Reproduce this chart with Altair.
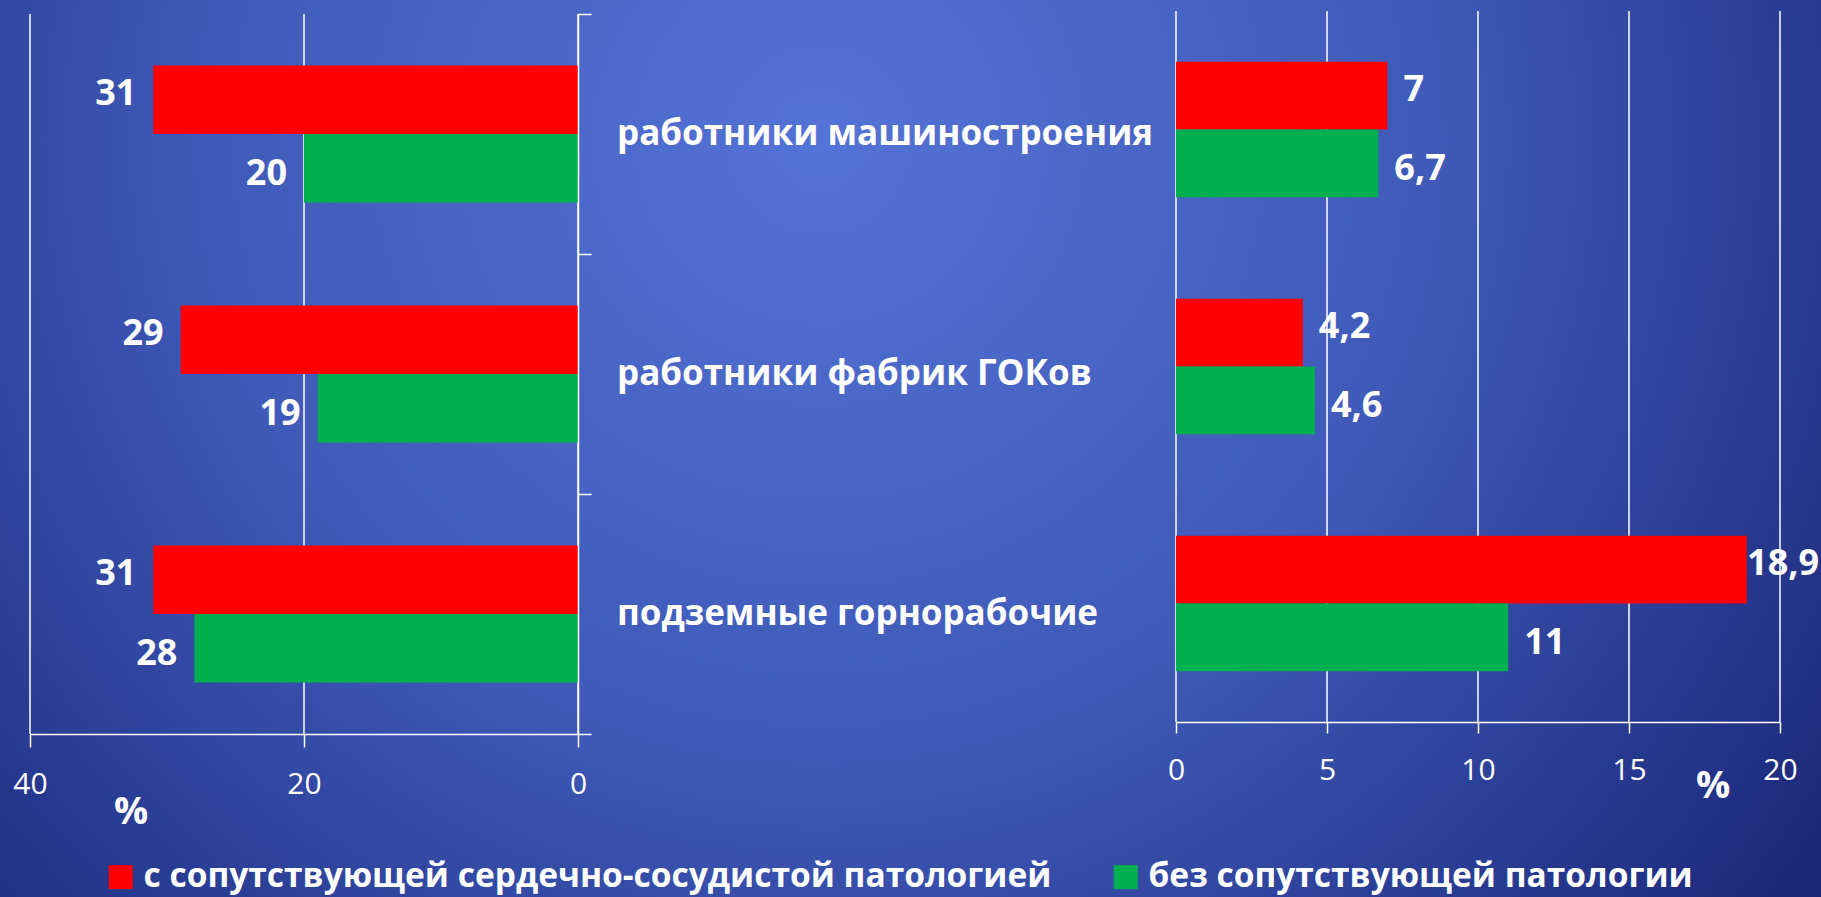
import altair as alt
import pandas as pd

# Categories (top to bottom) and the two compared groups
categories = ["работники машиностроения", "работники фабрик ГОКов", "подземные горнорабочие"]
series = ["с сопутствующей сердечно-сосудистой патологией", "без сопутствующей патологии"]
series_colors = ["#FF0000", "#00B050"]

# Left panel, % (axis runs from 40 on the left to 0 on the right)
left_with = [31, 29, 31]
left_without = [20, 19, 28]
left_ticks = [0, 20, 40]

# Right panel, % (axis runs from 0 to 20)
right_with = [7, 4.2, 18.9]
right_without = [6.7, 4.6, 11]
right_ticks = [0, 5, 10, 15, 20]

W, H = 1821, 897
FONT = "Open Sans"
WHITE = "#FFFFFF"


def frame(with_vals, without_vals):
    rows = []
    for cat, a, b in zip(categories, with_vals, without_vals):
        for s, v in zip(series, (a, b)):
            rows.append({"category": cat, "series": s, "value": v,
                         "label": f"{v:g}".replace(".", ",")})
    return pd.DataFrame(rows)


left_df = frame(left_with, left_without)
right_df = frame(right_with, right_without)

# Panel geometry is set through the scale ranges of one full-size layered view.
# Category bands touch each other, so the category axis ticks fall between groups;
# the gap around each pair of bars comes from the offset scale's outer padding.
left_x = alt.Scale(domain=[0, 40], range=[578, 30], nice=False)
left_y = alt.Scale(domain=categories, range=[14, 734], paddingInner=0, paddingOuter=0)
right_x = alt.Scale(domain=[0, 20], range=[1176, 1780], nice=False)
right_y = alt.Scale(domain=categories, range=[11, 722], paddingInner=0, paddingOuter=0)
bar_offset = alt.Scale(type="band", domain=series, paddingInner=0, paddingOuter=0.752)
label_offset = alt.Scale(type="point", domain=series, padding=1.252)
color_scale = alt.Scale(domain=series, range=series_colors)

legend = alt.Legend(
    orient="none", legendX=104, legendY=860, direction="horizontal", title=None,
    symbolType="square", symbolSize=576, symbolStrokeWidth=0, symbolOpacity=1,
    labelFont=FONT, labelFontSize=33.5, labelFontWeight="bold", labelColor=WHITE,
    labelOffset=6, labelLimit=1500, columnPadding=57, padding=0,
)

axis_style = dict(
    domainColor=WHITE, domainWidth=1.5, tickColor=WHITE, tickWidth=1.5,
    labelColor=WHITE, labelFont=FONT, labelFontSize=30, labelFlush=False,
    labelOverlap=False, grid=False, title=None, zindex=1,
)

# Background: soft radial gradient, brighter towards the upper middle
background = alt.Chart(pd.DataFrame({"k": [0]})).mark_rect(
    fill=alt.RadialGradient(
        gradient="radial",
        x1=0.45, y1=0.33, r1=0.0,
        x2=0.45, y2=0.33, r2=0.75,
        stops=[
            alt.GradientStop(offset=0.0, color="#5473d6"),
            alt.GradientStop(offset=0.45, color="#3f5ab8"),
            alt.GradientStop(offset=1.0, color="#131d6c"),
        ],
    )
).encode(x=alt.value(0), x2=alt.value(W), y=alt.value(0), y2=alt.value(H))

# Gridlines and value axes
left_grid = alt.Chart(pd.DataFrame({"tick": left_ticks})).mark_rule(
    color=WHITE, strokeWidth=1.5
).encode(
    x=alt.X("tick:Q", scale=left_x,
            axis=alt.Axis(orient="bottom", offset=-(H - 734), values=left_ticks,
                          tickSize=13, labelPadding=22, **axis_style)),
    y=alt.value(14), y2=alt.value(734),
)

right_grid = alt.Chart(pd.DataFrame({"tick": right_ticks})).mark_rule(
    color=WHITE, strokeWidth=1.5
).encode(
    x=alt.X("tick:Q", scale=right_x,
            axis=alt.Axis(orient="bottom", offset=-(H - 722), values=right_ticks,
                          tickSize=11, labelPadding=22, **axis_style)),
    y=alt.value(11), y2=alt.value(722),
)

# Bars
left_bars = alt.Chart(left_df).mark_bar().encode(
    x=alt.X("value:Q", scale=left_x, axis=None),
    y=alt.Y("category:N", scale=left_y, sort=categories,
            axis=alt.Axis(orient="right", offset=-(W - 578), labels=False,
                          tickBand="extent", tickSize=13, domainColor=WHITE,
                          domainWidth=1.5, tickColor=WHITE, tickWidth=1.5,
                          grid=False, title=None, zindex=1)),
    yOffset=alt.YOffset("series:N", scale=bar_offset, sort=series),
    color=alt.Color("series:N", scale=color_scale, legend=legend),
)

right_bars = alt.Chart(right_df).mark_bar().encode(
    x=alt.X("value:Q", scale=right_x, axis=None),
    y=alt.Y("category:N", scale=right_y, sort=categories, axis=None),
    yOffset=alt.YOffset("series:N", scale=bar_offset, sort=series),
    color=alt.Color("series:N", scale=color_scale, legend=legend),
)

# Value labels, vertically centred on their bars
label_style = dict(baseline="middle", font=FONT, fontSize=36,
                   fontWeight="bold", color=WHITE)

left_labels = alt.Chart(left_df).mark_text(align="right", dx=-17, **label_style).encode(
    x=alt.X("value:Q", scale=left_x, axis=None),
    y=alt.Y("category:N", scale=left_y, sort=categories, axis=None),
    yOffset=alt.YOffset("series:N", scale=label_offset, sort=series),
    text="label:N",
)

# Labels that would run past the right edge are pulled back inside
right_labels = alt.Chart(right_df).transform_calculate(
    label_x="min(datum.value, 18.38)"
).mark_text(align="left", dx=16, **label_style).encode(
    x=alt.X("label_x:Q", scale=right_x, axis=None),
    y=alt.Y("category:N", scale=right_y, sort=categories, axis=None),
    yOffset=alt.YOffset("series:N", scale=label_offset, sort=series),
    text="label:N",
)

# Category names between the two panels
category_text = alt.Chart(pd.DataFrame({"category": categories})).mark_text(
    align="left", baseline="middle", font=FONT, fontSize=35, fontWeight="bold", color=WHITE
).encode(
    x=alt.value(617),
    y=alt.Y("category:N", scale=left_y, sort=categories, axis=None),
    text="category:N",
)

pct_style = dict(align="center", baseline="middle", font=FONT, fontSize=38,
                 fontWeight="bold", color=WHITE)
pct_left = alt.Chart(pd.DataFrame({"t": ["%"]})).mark_text(**pct_style).encode(
    x=alt.value(131), y=alt.value(813), text="t:N")
pct_right = alt.Chart(pd.DataFrame({"t": ["%"]})).mark_text(**pct_style).encode(
    x=alt.value(1713), y=alt.value(787), text="t:N")

chart = alt.layer(
    background, left_grid, right_grid, left_bars, right_bars,
    left_labels, right_labels, category_text, pct_left, pct_right,
).resolve_scale(
    x="independent", y="independent", yOffset="independent"
).properties(
    width=W, height=H, padding=0, autosize=alt.AutoSizeParams(type="none"),
).configure(
    background="#1b2878"
).configure_view(stroke=None)

chart.save("out.html", embed_options={"renderer": "svg", "actions": False})
